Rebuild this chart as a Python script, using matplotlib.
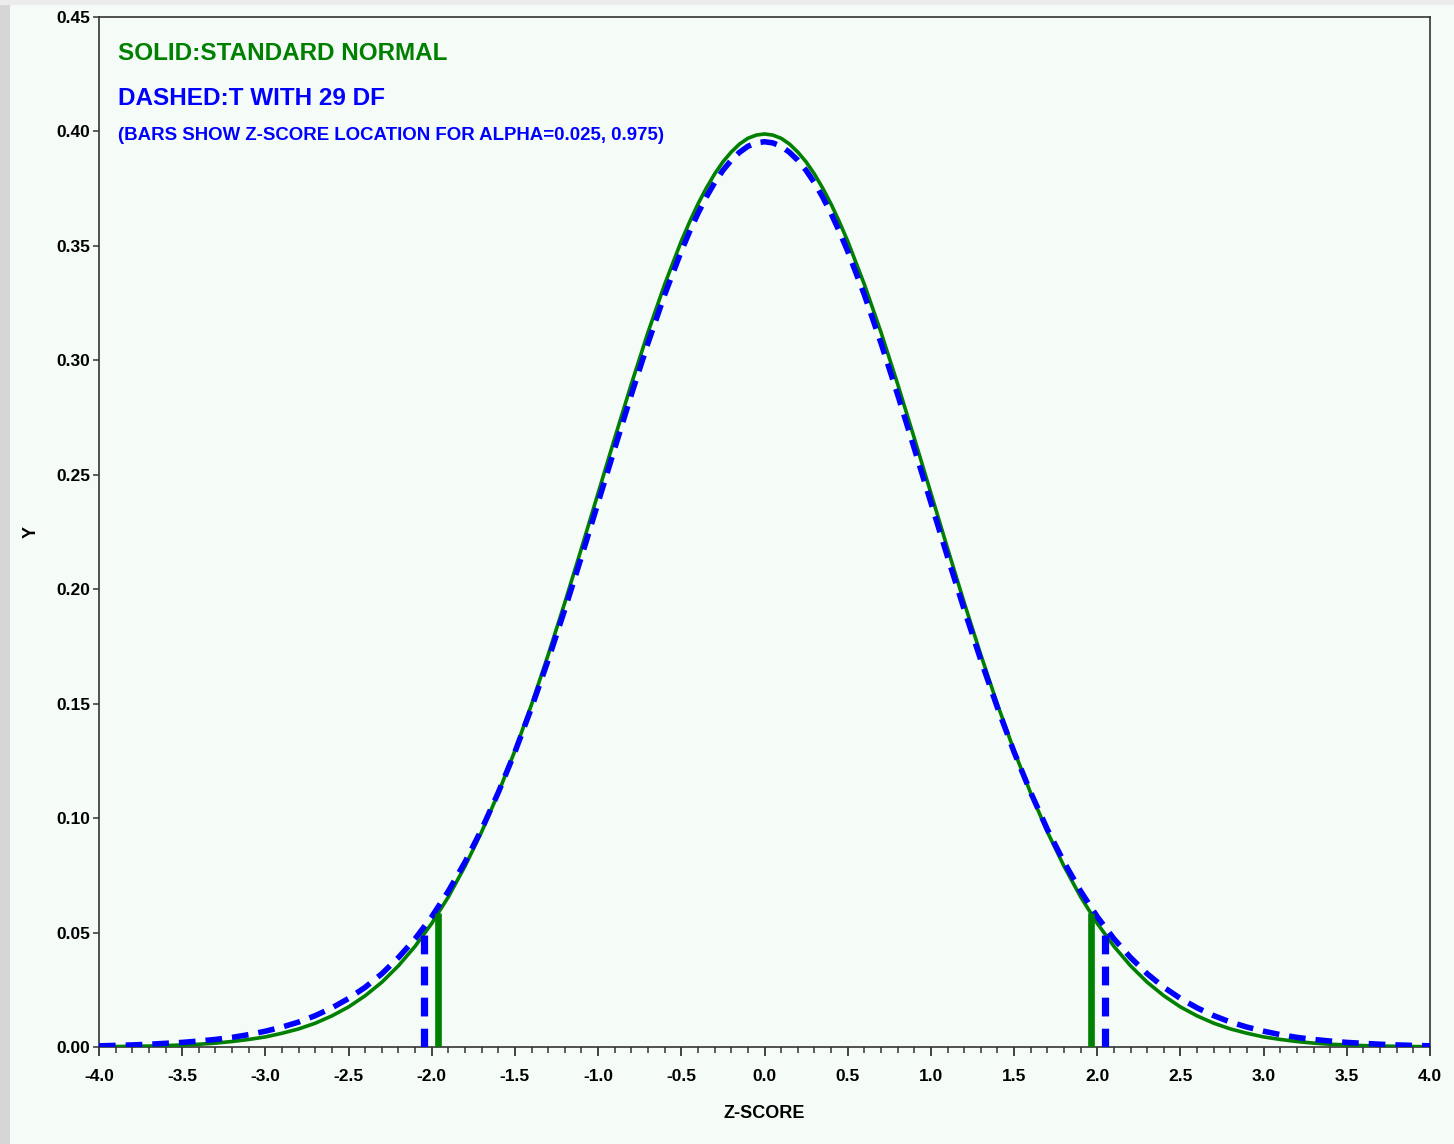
import matplotlib
matplotlib.use("Agg")
import matplotlib.pyplot as plt
from matplotlib.patches import Rectangle
from matplotlib.ticker import MultipleLocator, FormatStrFormatter

# ---- data ----
z = [-4.0, -3.9, -3.8, -3.7, -3.6, -3.5, -3.4, -3.3, -3.2, -3.1,
     -3.0, -2.9, -2.8, -2.7, -2.6, -2.5, -2.4, -2.3, -2.2, -2.1,
     -2.0, -1.9, -1.8, -1.7, -1.6, -1.5, -1.4, -1.3, -1.2, -1.1,
     -1.0, -0.9, -0.8, -0.7, -0.6,
     -0.5, -0.45, -0.4, -0.35, -0.3, -0.25, -0.2, -0.15, -0.1, -0.05,
     0.0,
     0.05, 0.1, 0.15, 0.2, 0.25, 0.3, 0.35, 0.4, 0.45, 0.5,
     0.6, 0.7, 0.8, 0.9,
     1.0, 1.1, 1.2, 1.3, 1.4, 1.5, 1.6, 1.7, 1.8, 1.9,
     2.0, 2.1, 2.2, 2.3, 2.4, 2.5, 2.6, 2.7, 2.8, 2.9,
     3.0, 3.1, 3.2, 3.3, 3.4, 3.5, 3.6, 3.7, 3.8, 3.9, 4.0]

normal_y = [0.0001, 0.0002, 0.0003, 0.0004, 0.0006, 0.0009, 0.0012, 0.0017, 0.0024, 0.0033,
            0.0044, 0.0060, 0.0079, 0.0104, 0.0136, 0.0175, 0.0224, 0.0283, 0.0355, 0.0440,
            0.0540, 0.0656, 0.0790, 0.0940, 0.1109, 0.1295, 0.1497, 0.1714, 0.1942, 0.2179,
            0.2420, 0.2661, 0.2897, 0.3123, 0.3332,
            0.3521, 0.3605, 0.3683, 0.3752, 0.3814, 0.3867, 0.3910, 0.3945, 0.3970, 0.3984,
            0.3989,
            0.3984, 0.3970, 0.3945, 0.3910, 0.3867, 0.3814, 0.3752, 0.3683, 0.3605, 0.3521,
            0.3332, 0.3123, 0.2897, 0.2661,
            0.2420, 0.2179, 0.1942, 0.1714, 0.1497, 0.1295, 0.1109, 0.0940, 0.0790, 0.0656,
            0.0540, 0.0440, 0.0355, 0.0283, 0.0224, 0.0175, 0.0136, 0.0104, 0.0079, 0.0060,
            0.0044, 0.0033, 0.0024, 0.0017, 0.0012, 0.0009, 0.0006, 0.0004, 0.0003, 0.0002, 0.0001]

t29_y = [0.0005, 0.0007, 0.0009, 0.0012, 0.0016, 0.0020, 0.0026, 0.0033, 0.0042, 0.0054,
         0.0069, 0.0087, 0.0109, 0.0137, 0.0171, 0.0212, 0.0261, 0.0320, 0.0391, 0.0473,
         0.0569, 0.0681, 0.0808, 0.0951, 0.1112, 0.1289, 0.1483, 0.1691, 0.1912, 0.2142,
         0.2379, 0.2616, 0.2851, 0.3076, 0.3287,
         0.3477, 0.3563, 0.3642, 0.3713, 0.3776, 0.3830, 0.3874, 0.3909, 0.3935, 0.3950,
         0.3955,
         0.3950, 0.3935, 0.3909, 0.3874, 0.3830, 0.3776, 0.3713, 0.3642, 0.3563, 0.3477,
         0.3287, 0.3076, 0.2851, 0.2616,
         0.2379, 0.2142, 0.1912, 0.1691, 0.1483, 0.1289, 0.1112, 0.0951, 0.0808, 0.0681,
         0.0569, 0.0473, 0.0391, 0.0320, 0.0261, 0.0212, 0.0171, 0.0137, 0.0109, 0.0087,
         0.0069, 0.0054, 0.0042, 0.0033, 0.0026, 0.0020, 0.0016, 0.0012, 0.0009, 0.0007, 0.0005]

normal_crit_x = [-1.96, 1.96]
normal_crit_h = [0.0584, 0.0584]
t_crit_x = [-2.045, 2.045]
t_crit_h = [0.0522, 0.0522]

x_ticks = [-4.0, -3.5, -3.0, -2.5, -2.0, -1.5, -1.0, -0.5, 0.0, 0.5, 1.0, 1.5, 2.0, 2.5, 3.0, 3.5, 4.0]
y_ticks = [0.00, 0.05, 0.10, 0.15, 0.20, 0.25, 0.30, 0.35, 0.40, 0.45]

text_lines = ["SOLID:STANDARD NORMAL", "DASHED:T WITH 29 DF",
              "(BARS SHOW Z-SCORE LOCATION FOR ALPHA=0.025, 0.975)"]

# ---- styling ----
plt.rcParams['font.family'] = ['Liberation Sans', 'DejaVu Sans']
BG = '#f5fbf7'
GREEN = '#008000'
BLUE = '#0000ff'

fig = plt.figure(figsize=(14.54, 11.44), dpi=100, facecolor=BG)
# outer gray frame strips
fig.patches.append(Rectangle((0, 0), 10 / 1454, 1, transform=fig.transFigure,
                             facecolor='#d6d6d6', edgecolor='none', zorder=0))
fig.patches.append(Rectangle((0, 1 - 5 / 1144), 1, 5 / 1144, transform=fig.transFigure,
                             facecolor='#ececec', edgecolor='none', zorder=0))

ax = fig.add_axes([99 / 1454, 1 - 1047 / 1144, (1430 - 99) / 1454, (1047 - 17) / 1144])
ax.set_facecolor(BG)

ax.plot(z, normal_y, color=GREEN, lw=2.6, solid_joinstyle='round', zorder=3)
ax.plot(z, t29_y, color=BLUE, lw=4.0, linestyle=(0, (3.0, 1.8)), zorder=4)

ax.vlines(normal_crit_x, 0, normal_crit_h, color=GREEN, lw=4.8, zorder=5)
ax.vlines(t_crit_x, 0, t_crit_h, color=BLUE, lw=5.2, linestyles=[(0, (2.6, 1.7))], zorder=5)

ax.set_xlim(-4.0, 4.0)
ax.set_ylim(0.0, 0.45)
ax.set_xticks(x_ticks)
ax.set_yticks(y_ticks)
ax.xaxis.set_minor_locator(MultipleLocator(0.1))
ax.xaxis.set_major_formatter(FormatStrFormatter('%.1f'))
ax.yaxis.set_major_formatter(FormatStrFormatter('%.2f'))

ax.tick_params(axis='x', which='major', direction='out', length=6.5, width=1.3,
               pad=9.5, labelsize=12.5, color='#333333')
ax.tick_params(axis='x', which='minor', direction='out', length=4.3, width=1.1, color='#333333')
ax.tick_params(axis='y', which='major', direction='out', length=4, width=1.1,
               pad=2.5, labelsize=12.5, color='#333333')
for lab in ax.get_xticklabels() + ax.get_yticklabels():
    lab.set_fontweight('bold')

for sp in ax.spines.values():
    sp.set_color('#333333')
    sp.set_linewidth(1.2)

ax.set_xlabel('Z-SCORE', fontsize=13, fontweight='bold', labelpad=15)
ax.set_ylabel('Y', fontsize=13, fontweight='bold', labelpad=12)

ax.text(0.0143, 0.965, text_lines[0], transform=ax.transAxes, color=GREEN,
        fontsize=17.5, fontweight='bold', va='center', ha='left')
ax.text(0.0143, 0.921, text_lines[1], transform=ax.transAxes, color=BLUE,
        fontsize=17.5, fontweight='bold', va='center', ha='left')
ax.text(0.0143, 0.885, text_lines[2], transform=ax.transAxes, color=BLUE,
        fontsize=13.4, fontweight='bold', va='center', ha='left')

fig.savefig('out.png', dpi=100, facecolor=BG)
